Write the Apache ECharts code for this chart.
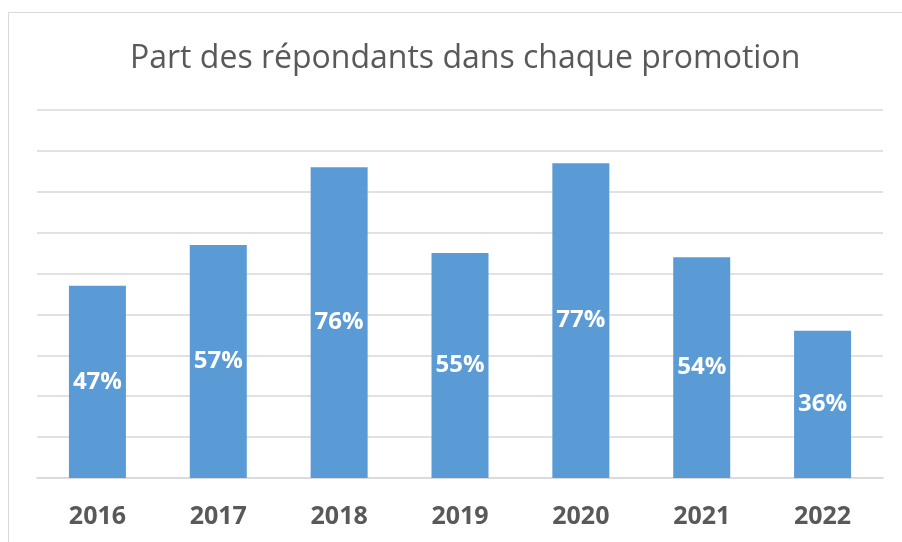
<!DOCTYPE html>
<html>
<head>
<meta charset="utf-8">
<script src="https://cdn.jsdelivr.net/npm/echarts@6/dist/echarts.min.js"></script>
<style>
  html, body { margin: 0; padding: 0; background: #fff; }
  #chart { width: 902px; height: 542px; }
</style>
</head>
<body>
<div id="chart"></div>
<script>
// Données
const annees = ['2016', '2017', '2018', '2019', '2020', '2021', '2022']
const partRepondants = [47, 57, 76, 55, 77, 54, 36]

const chart = echarts.init(document.getElementById('chart'))

chart.setOption({
  animation: false,
  title: {
    text: 'Part des répondants dans chaque promotion',
    left: 125,
    top: 38,
    textStyle: {
      fontFamily: 'Open Sans',
      fontWeight: 'normal',
      fontSize: 32,
      color: '#595959'
    }
  },
  // cadre gris clair de la zone du graphique
  graphic: [{
    type: 'rect',
    shape: { x: 8.5, y: 12.5, width: 920, height: 560 },
    style: { fill: 'none', stroke: '#d9d9d9', lineWidth: 1 },
    silent: true
  }],
  grid: { left: 37, right: 19, top: 110, bottom: 64 },
  xAxis: {
    type: 'category',
    data: annees,
    axisLine: { lineStyle: { color: '#d9d9d9', width: 1.5 } },
    axisTick: { show: false },
    axisLabel: {
      margin: 26,
      fontFamily: 'Open Sans',
      fontWeight: 'bold',
      fontSize: 25,
      color: '#595959'
    }
  },
  yAxis: {
    type: 'value',
    min: 0,
    max: 90,
    interval: 10,
    axisLabel: { show: false },
    axisLine: { show: false },
    axisTick: { show: false },
    splitLine: { lineStyle: { color: '#d9d9d9', width: 1.5 } }
  },
  series: [{
    type: 'bar',
    data: partRepondants,
    barWidth: 57,
    itemStyle: { color: '#5b9bd5' },
    label: {
      show: true,
      position: 'inside',
      formatter: p => p.value + '%',
      fontFamily: 'Open Sans',
      fontWeight: 'bold',
      fontSize: 24,
      color: '#ffffff'
    }
  }]
})
</script>
</body>
</html>
